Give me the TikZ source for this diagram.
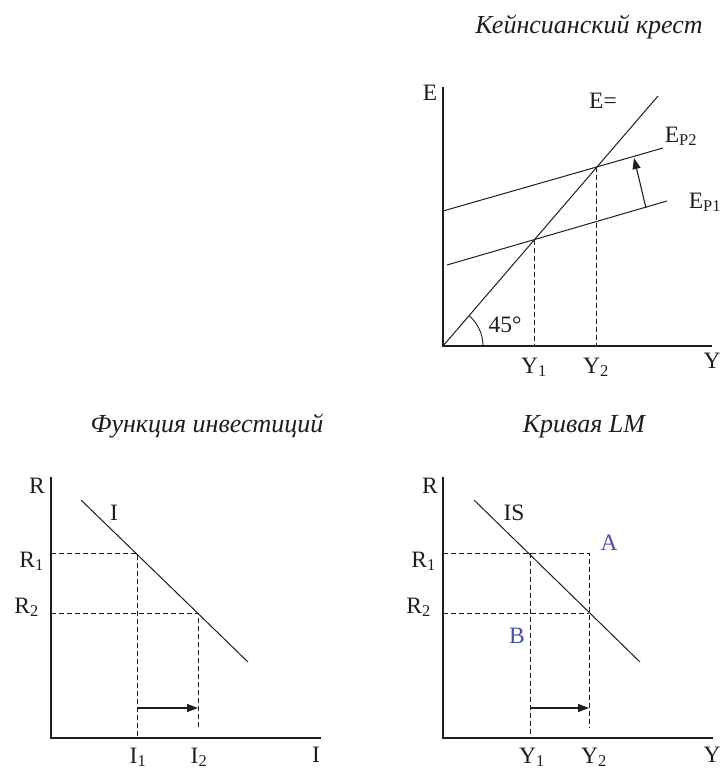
\documentclass[tikz,border=0pt]{standalone}
\usepackage{fontspec}
\setmainfont{Liberation Serif}
\usetikzlibrary{arrows.meta,positioning}
\definecolor{Ink}{HTML}{1E1E1E}
\definecolor{Mark}{HTML}{4650AA}
\tikzset{
  axisline/.style={draw=Ink, line width=1.6pt},
  curve/.style={draw=Ink, line width=1pt},
  guide/.style={draw=Ink, line width=1pt, dash pattern=on 5pt off 3pt},
  shiftarrow/.style={-{Triangle[length=11pt,width=8pt]}, draw=Ink, line width=1.1pt},
  lbl/.style={font=\fontsize{23.5}{25}\selectfont, text=Ink, inner sep=0pt, anchor=base},
  pointlbl/.style={lbl, text=Mark},
  heading/.style={font=\fontsize{26}{28}\selectfont\itshape, text=Ink, inner sep=0pt, anchor=base}
}

\begin{document}
\begin{tikzpicture}[x=1pt,y=-1pt]
  \useasboundingbox (0,0) rectangle (724,771);

  % Keynesian cross
  \node[heading] (crossTitle) at (589,33) {Кейнсианский крест};
  \coordinate (kTop) at (443,87);
  \coordinate (kO) at (443,346);
  \coordinate (kEnd) at (712,346);
  \draw[axisline] (kTop) -- (kO) -- (kEnd);
  \coordinate (k45) at (658,96);
  \draw[curve] (kO) -- (k45);
  \coordinate (ep1a) at (447,265);
  \coordinate (ep1b) at (667,201);
  \coordinate (ep2a) at (443,211);
  \coordinate (ep2b) at (663,148);
  \draw[curve] (ep1a) -- (ep1b);
  \draw[curve] (ep2a) -- (ep2b);
  \coordinate (kp1) at (534,240);
  \coordinate (kp2) at (596,167);
  \coordinate (ky1) at (534,346);
  \coordinate (ky2) at (596,346);
  \draw[guide] (kp1) -- (ky1);
  \draw[guide] (kp2) -- (ky2);
  \coordinate (kShiftA) at (646,208);
  \coordinate (kShiftB) at (634,158);
  \draw[shiftarrow] (kShiftA) -- (kShiftB);
  \draw[curve, line width=0.9pt] (kO) ++(40,0) arc[start angle=0, end angle=-49.3, radius=40];
  \node[lbl] (kE) at (430,100) {E};
  \node[lbl] (kEeq) at (603,108) {E=};
  \node[lbl] (kEp2) at (681,142) {E\textsubscript{P2}};
  \node[lbl] (kEp1) at (705,208) {E\textsubscript{P1}};
  \node[lbl] (kAngle) at (505,332) {45°};
  \node[lbl] (kY1) at (534,373) {Y\textsubscript{1}};
  \node[lbl] (kY2) at (596,373) {Y\textsubscript{2}};
  \node[lbl] (kY) at (712,368) {Y};

  % investment function
  \node[heading] (invTitle) at (207,432) {Функция инвестиций};
  \coordinate (iTop) at (51,477);
  \coordinate (iO) at (51,738);
  \coordinate (iEnd) at (321,738);
  \draw[axisline] (iTop) -- (iO) -- (iEnd);
  \coordinate (iA) at (81,500);
  \coordinate (iB) at (248,662);
  \draw[curve] (iA) -- (iB);
  \coordinate (iq1) at (137,553);
  \coordinate (iq2) at (198,613);
  \coordinate (ir1) at (51,553);
  \coordinate (ir2) at (51,613);
  \coordinate (ii1) at (137,738);
  \coordinate (ii2) at (198,728);
  \draw[guide] (ir1) -- (iq1) -- (ii1);
  \draw[guide] (ir2) -- (iq2) -- (ii2);
  \coordinate (iShiftA) at (137,708);
  \coordinate (iShiftB) at (198,708);
  \draw[shiftarrow] (iShiftA) -- (iShiftB);
  \node[lbl] (iR) at (37,493) {R};
  \node[lbl] (iCurve) at (114,520) {I};
  \node[lbl, anchor=base east] (iR1) at (44,567) {R\textsubscript{1}};
  \node[lbl, anchor=base east] (iR2) at (39,613) {R\textsubscript{2}};
  \node[lbl] (iI1) at (138,763) {I\textsubscript{1}};
  \node[lbl] (iI2) at (199,763) {I\textsubscript{2}};
  \node[lbl] (iI) at (316,762) {I};

  % IS curve
  \node[heading] (isTitle) at (584,432) {Кривая \textit{LM}};
  \coordinate (sTop) at (443,477);
  \coordinate (sO) at (443,738);
  \coordinate (sEnd) at (713,738);
  \draw[axisline] (sTop) -- (sO) -- (sEnd);
  \coordinate (sA) at (474,500);
  \coordinate (sB) at (640,662);
  \draw[curve] (sA) -- (sB);
  \coordinate (sq1) at (530,553);
  \coordinate (sq2) at (589,613);
  \coordinate (sCorner) at (589,553);
  \coordinate (sr1) at (443,553);
  \coordinate (sr2) at (443,613);
  \coordinate (sy1) at (530,738);
  \coordinate (sy2) at (589,728);
  \draw[guide] (sr1) -- (sCorner) -- (sy2);
  \draw[guide] (sr2) -- (sq2);
  \draw[guide] (sq1) -- (sy1);
  \coordinate (sShiftA) at (530,708);
  \coordinate (sShiftB) at (589,708);
  \draw[shiftarrow] (sShiftA) -- (sShiftB);
  \node[lbl] (sR) at (430,493) {R};
  \node[lbl] (sIS) at (514,520) {IS};
  \node[pointlbl] (sPtA) at (609,550) {A};
  \node[pointlbl] (sPtB) at (517,643) {B};
  \node[lbl, anchor=base east] (sR1) at (436,567) {R\textsubscript{1}};
  \node[lbl, anchor=base east] (sR2) at (431,613) {R\textsubscript{2}};
  \node[lbl] (sY1) at (532,763) {Y\textsubscript{1}};
  \node[lbl] (sY2) at (594,763) {Y\textsubscript{2}};
  \node[lbl] (sY) at (712,762) {Y};
\end{tikzpicture}
\end{document}
